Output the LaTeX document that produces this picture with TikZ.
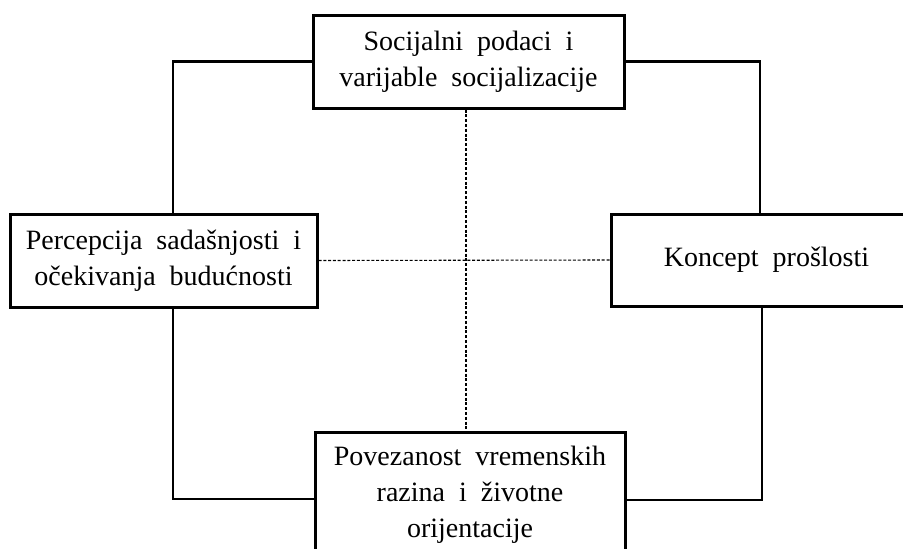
\documentclass[tikz,border=0pt]{standalone}
\usepackage{fontspec}
\setmainfont{Liberation Serif}
\newcommand\myboxfont{\fontsize{28}{36}\selectfont\spaceskip=14pt plus 3pt\relax}
\tikzset{
  box/.style={draw, line width=3pt, rectangle, align=center, inner sep=0pt,
    font=\myboxfont},
  link/.style={line width=2.2pt},
  guide/.style={line width=1.1pt, dash pattern=on 3pt off 1.8pt}
}
\begin{document}
\begin{tikzpicture}[x=1pt, y=-1pt]
\useasboundingbox (0,0) rectangle (903,549);
\clip (0,0) rectangle (903,549);
\node[box, minimum width=311, minimum height=93] (top) at (468.5,61.5) {Socijalni podaci i\\varijable socijalizacije};
\node[box, minimum width=307, minimum height=93] (left) at (163.5,260.5) {Percepcija sadašnjosti i\\očekivanja budućnosti};
\node[box, minimum width=311, minimum height=92] (right) at (766.5,260) {Koncept prošlosti};
\node[box, minimum width=310, minimum height=126] (bot) at (470,495) {Povezanost vremenskih\\razina i životne\\orijentacije};
\coordinate (c1) at (173,61.5);
\coordinate (c2) at (760,61.5);
\coordinate (c3) at (173,499);
\coordinate (c4) at (762,500);
\coordinate (v) at (466,0);
\draw[link] (top.west) -- (c1) -- (c1 |- left.north);
\draw[link] (top.east) -- (c2) -- (c2 |- right.north);
\draw[link] (c3 |- left.south) -- (c3) -- (c3 -| bot.west);
\draw[link] (c4 |- right.south) -- (c4) -- (c4 -| bot.east);
\draw[guide] (v |- top.south) -- (v |- bot.north);
\draw[guide] (left.east) -- (right.west);
\end{tikzpicture}
\end{document}
